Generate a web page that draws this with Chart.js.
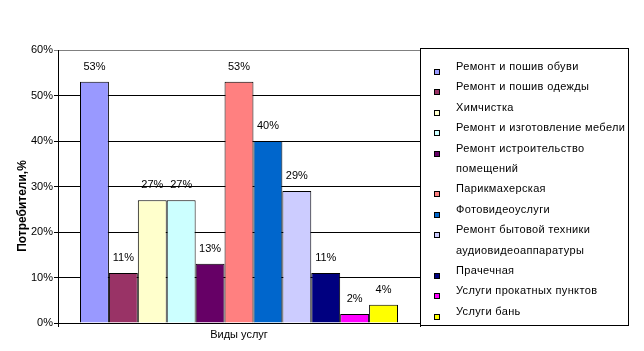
<!DOCTYPE html>
<html><head><meta charset="utf-8">
<script src="https://cdn.jsdelivr.net/npm/chart.js@4"></script>
<style>html,body{margin:0;padding:0;background:#fff}canvas{display:block}</style>
</head><body>
<canvas id="c" width="644" height="351"></canvas>
<script>
const categories = ["Виды услуг"];
const seriesNames = [
  ["Ремонт и пошив обуви"],
  ["Ремонт и пошив одежды"],
  ["Химчистка"],
  ["Ремонт и изготовление мебели"],
  ["Ремонт истроительство", "помещений"],
  ["Парикмахерская"],
  ["Фотовидеоуслуги"],
  ["Ремонт бытовой техники", "аудиовидеоаппаратуры"],
  ["Прачечная"],
  ["Услуги прокатных пунктов"],
  ["Услуги бань"]
];
const seriesValues = [53, 11, 27, 27, 13, 53, 40, 29, 11, 2, 4];
const seriesColors = ["#9999FF","#993366","#FFFFCC","#CCFFFF","#660066","#FF8080","#0066CC","#CCCCFF","#000080","#FF00FF","#FFFF00"];
const yMin = 0, yMax = 60, yStep = 10;
const yTitle = "Потребители,%";

const FONT = "'Liberation Sans', Arial, sans-serif";

const datasets = seriesNames.map((n, i) => ({
  label: n.join(' '),
  legendLines: n,
  data: [seriesValues[i]],
  backgroundColor: seriesColors[i],
  borderColor: '#000',
  borderWidth: 1,
  barPercentage: 1,
  categoryPercentage: 318 / 362
}));

const extras = {
  id: 'extras',
  afterDatasetsDraw(chart) {
    const ctx = chart.ctx;
    ctx.save();
    ctx.fillStyle = '#000';
    ctx.font = '11px ' + FONT;
    ctx.textAlign = 'center';
    ctx.textBaseline = 'middle';
    chart.data.datasets.forEach((ds, i) => {
      const meta = chart.getDatasetMeta(i);
      meta.data.forEach((el, j) => {
        ctx.fillText(ds.data[j] + '%', el.x, el.y - 15);
      });
    });
    ctx.restore();
  },
  afterDraw(chart) {
    const ctx = chart.ctx;
    const area = chart.chartArea;
    ctx.save();
    // y axis title
    ctx.fillStyle = '#000';
    ctx.font = 'bold 12px ' + FONT;
    ctx.textAlign = 'center';
    ctx.textBaseline = 'middle';
    ctx.translate(23, 206);
    ctx.rotate(-Math.PI / 2);
    ctx.fillText(yTitle, 0, 0);
    ctx.restore();

    // legend box
    ctx.save();
    const bx = area.right, by = 48, bw = 208, bh = 277;
    ctx.fillStyle = '#fff';
    ctx.fillRect(bx, by, bw, bh);
    ctx.strokeStyle = '#000';
    ctx.lineWidth = 1;
    ctx.strokeRect(bx + 0.5, by + 0.5, bw, bh);
    ctx.font = '11px ' + FONT;
    try { ctx.letterSpacing = '0.35px'; } catch (e) {}
    ctx.textAlign = 'left';
    ctx.textBaseline = 'middle';
    let line = 0;
    const step = 20.4, y0 = by + 19;
    chart.data.datasets.forEach((ds) => {
      const ty = y0 + line * step;
      const my = Math.round(ty + 5) - 3;
      ctx.fillStyle = ds.backgroundColor;
      ctx.fillRect(bx + 14, my, 6, 6);
      ctx.strokeStyle = '#000';
      ctx.strokeRect(bx + 14.5, my + 0.5, 5, 5);
      ctx.fillStyle = '#000';
      ds.legendLines.forEach((t) => {
        ctx.fillText(t, bx + 36, y0 + line * step);
        line++;
      });
    });
    ctx.restore();
  }
};

new Chart(document.getElementById('c'), {
  type: 'bar',
  data: { labels: categories, datasets },
  options: {
    responsive: false,
    animation: false,
    layout: { padding: { left: 0, right: 224, top: 50, bottom: 0 } },
    plugins: { legend: { display: false }, tooltip: { enabled: false } },
    scales: {
      x: {
        offset: true,
        grid: { drawOnChartArea: false, offset: true, color: '#000', tickLength: 4 },
        border: { color: '#000', width: 1 },
        ticks: { color: '#000', font: { family: FONT, size: 11 }, padding: 1 },
        afterFit(s) { s.height = 28; }
      },
      y: {
        min: yMin, max: yMax,
        grid: {
          color: (c) => (c.tick && c.tick.value === yMax) ? '#808080' : '#000',
          tickLength: 4
        },
        border: { color: '#000', width: 1 },
        ticks: {
          stepSize: yStep, color: '#000', padding: 1,
          font: { family: FONT, size: 11 },
          callback: (v) => v + '%'
        },
        afterFit(s) { s.width = 58; }
      }
    }
  },
  plugins: [extras]
});
</script>
</body></html>
